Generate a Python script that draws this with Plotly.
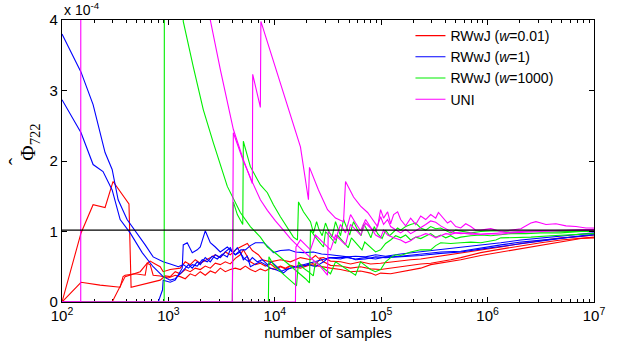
import plotly.graph_objects as go

# ---------------- data (values in units of 1e-4) ----------------
red_run1_n = [100, 151, 196, 254, 302, 409, 426, 446, 543, 674, 837, 933, 1040, 1159, 1291, 1440, 1604, 1788, 1993, 2221, 2476, 2759, 3074, 3426, 3818, 4256, 4743, 5062, 5520, 5891, 6566, 7318, 8155, 9091, 10130, 11290, 12590, 14030, 15630, 17420, 19420, 21640, 24120, 26880, 28680, 33390, 41470, 51510, 63990, 79480, 98700, 122600, 152300, 189200, 235000, 291900, 362500, 450300, 559200, 862900, 1.331e6, 2.054e6, 3.17e6, 4.89e6, 7.543e6, 1e7]
red_run1_phi = [0, 0.98, 1.38, 1.34, 1.71, 1.42, 1.39, 0.21, 0.24, 0.27, 0.31, 0.37, 0.36, 0.43, 0.40, 0.46, 0.43, 0.48, 0.46, 0.51, 0.48, 0.55, 0.53, 0.57, 0.54, 0.62, 0.67, 0.74, 0.65, 0.57, 0.53, 0.55, 0.51, 0.54, 0.48, 0.51, 0.48, 0.52, 0.50, 0.53, 0.51, 0.56, 0.53, 0.62, 0.57, 0.52, 0.51, 0.48, 0.50, 0.47, 0.46, 0.48, 0.50, 0.53, 0.54, 0.55, 0.57, 0.60, 0.63, 0.70, 0.75, 0.80, 0.84, 0.88, 0.91, 0.92]

red_run2_n = [100, 151, 228, 352, 375, 392, 487, 605, 632, 674, 719, 837, 996, 1159, 1291, 1440, 1604, 1788, 1993, 2221, 2476, 2759, 3074, 3426, 3818, 4256, 4743, 5285, 5891, 6566, 7318, 8155, 9091, 10130, 11290, 12590, 14030, 17420, 21640, 26880, 33390, 41470, 51510, 63990, 79480, 88600, 98700, 122600, 152300, 189200, 235000, 291900, 362500, 450300, 559200, 862900, 1.331e6, 2.054e6, 3.17e6, 4.89e6, 7.543e6, 1e7]
red_run2_phi = [0, 0.28, 0.24, 0.21, 0.36, 0.38, 0.40, 0.38, 0.55, 0.53, 0.38, 0.37, 0.34, 0.38, 0.36, 0.33, 0.40, 0.37, 0.43, 0.38, 0.44, 0.41, 0.48, 0.43, 0.46, 0.48, 0.46, 0.51, 0.46, 0.43, 0.47, 0.44, 0.48, 0.46, 0.50, 0.47, 0.51, 0.48, 0.53, 0.50, 0.48, 0.46, 0.43, 0.44, 0.41, 0.38, 0.41, 0.40, 0.43, 0.46, 0.48, 0.53, 0.55, 0.57, 0.60, 0.66, 0.71, 0.76, 0.81, 0.86, 0.90, 0.91]

red_run3_n = [100, 296, 392, 437, 543, 632, 674, 751, 837, 893, 1040, 1291, 1440, 1604, 1788, 1993, 2476, 2759, 3074, 3426, 3818, 4256, 4743, 5520, 6152, 7000, 7642, 9091, 11290, 14030, 17420, 21640, 24120, 25730, 28680, 33390, 41470, 51510, 63990, 79480, 98700, 122600, 152300, 189200, 235000, 291900, 362500, 450300, 559200, 862900, 1.331e6, 2.054e6, 3.17e6, 4.89e6, 7.543e6, 1e7]
red_run3_phi = [0, 0, 0.36, 0.38, 0.43, 0.55, 0.58, 0.54, 0.50, 0.43, 0.46, 0.48, 0.57, 0.53, 0.60, 0.55, 0.63, 0.67, 0.63, 0.71, 0.67, 0.74, 0.78, 0.83, 0.73, 0.67, 0.60, 0.57, 0.60, 0.57, 0.63, 0.60, 0.66, 0.62, 0.63, 0.58, 0.57, 0.54, 0.57, 0.54, 0.55, 0.57, 0.58, 0.60, 0.61, 0.63, 0.65, 0.68, 0.70, 0.74, 0.78, 0.83, 0.87, 0.91, 0.93, 0.95]

blue_run1_n = [100, 151, 196, 254, 296, 337, 409, 508, 605, 719, 893, 1040, 1240, 1379, 1540, 1676, 1867, 2080, 2319, 2580, 2881, 3208, 3578, 3818, 4256, 4743, 5062, 5520, 5891, 6566, 7318, 8155, 9091, 10130, 11290, 12590, 14030, 16330, 19420, 23090, 26880, 33390, 41470, 48270, 57410, 71320, 88600, 110000, 152300, 235000, 362500, 559200, 862900, 1.331e6, 2.054e6, 3.17e6, 4.89e6, 7.543e6, 1e7]
blue_run1_phi = [3.80, 3.26, 2.80, 2.12, 1.88, 1.45, 1.17, 0.98, 0.81, 0.64, 0.57, 0.54, 0.50, 0.53, 0.48, 0.53, 0.51, 0.60, 0.57, 0.65, 0.61, 0.68, 0.64, 0.74, 0.67, 0.71, 0.60, 0.65, 0.50, 0.54, 0.57, 0.53, 0.48, 0.46, 0.43, 0.46, 0.48, 0.50, 0.54, 0.57, 0.60, 0.63, 0.63, 0.63, 0.61, 0.63, 0.61, 0.64, 0.65, 0.68, 0.71, 0.72, 0.77, 0.81, 0.85, 0.88, 0.91, 0.94, 0.95]

blue_run2_n = [100, 151, 196, 243, 296, 352, 437, 567, 719, 893, 1040, 1159, 1349, 1545, 1676, 1867, 1993, 2221, 2476, 2759, 3074, 3426, 3818, 3987, 4256, 4800, 5285, 5891, 6566, 7900, 8800, 9701, 11290, 13590, 15630, 18590, 23090, 27500, 33390, 41470, 48270, 57410, 71320, 88600, 110000, 152300, 235000, 362500, 559200, 862900, 1.331e6, 2.054e6, 3.17e6, 4.89e6, 7.543e6, 1e7]
blue_run2_phi = [2.87, 2.40, 1.95, 1.85, 1.59, 1.17, 0.98, 0.70, 0.50, 0.36, 0.31, 0.33, 0.43, 0.53, 0.48, 0.57, 0.53, 0.63, 0.57, 0.67, 0.63, 0.71, 0.77, 0.71, 0.67, 0.74, 0.74, 0.80, 0.84, 0.84, 0.77, 0.70, 0.73, 0.74, 0.71, 0.70, 0.71, 0.68, 0.67, 0.65, 0.64, 0.65, 0.64, 0.67, 0.65, 0.68, 0.71, 0.74, 0.77, 0.81, 0.84, 0.88, 0.91, 0.94, 0.97, 0.98]

blue_run3_n = [100, 802, 880, 893, 1040, 1159, 1349, 1379, 1503, 1676, 1867, 1993, 2221, 2476, 2759, 3074, 3578, 4075, 4444, 5062, 5700, 6152, 6857, 7642, 8517, 9300, 10800, 12050, 13140, 14970, 17420, 20720, 24200, 28680, 32000, 41470, 48270, 57410, 71320, 88600, 110000, 152300, 235000, 362500, 559200, 862900, 1.331e6, 2.054e6, 3.17e6, 4.89e6, 7.543e6, 1e7]
blue_run3_phi = [0, 0, 0.17, 0.31, 0.28, 0.31, 0.48, 0.81, 0.84, 0.70, 0.74, 0.78, 1.01, 0.84, 0.78, 0.71, 0.78, 0.70, 0.77, 0.63, 0.57, 0.63, 0.57, 0.60, 0.53, 0.57, 0.48, 0.41, 0.46, 0.50, 0.50, 0.53, 0.50, 0.57, 0.63, 0.61, 0.64, 0.60, 0.61, 0.64, 0.63, 0.64, 0.66, 0.69, 0.71, 0.75, 0.79, 0.83, 0.87, 0.91, 0.94, 0.96]

green_run1_n = [100, 913, 940, 1379, 1712, 2127, 2642, 3578, 4743, 5891, 7318, 8517, 10580, 13140, 16330, 19420, 21180, 21640, 24120, 26880, 28680, 29960, 33390, 37210, 38870, 44260, 49000, 52500, 59970, 66000, 70000, 79480, 88600, 98700, 110000, 122600, 136700, 152300, 169700, 189200, 210900, 235000, 261900, 291900, 325300, 362500, 404000, 450300, 501800, 559200, 694600, 862900, 1.072e6, 1.331e6, 1.654e6, 2.289e6, 3.17e6, 4.89e6, 7.543e6, 1e7]
green_run1_phi = [0, 0, 40, 3.98, 3.34, 2.73, 2.26, 1.64, 1.27, 1.07, 0.92, 0.78, 0.67, 0.55, 0.43, 0.33, 0.27, 1.02, 0.92, 0.84, 0.78, 1.00, 0.91, 0.83, 0.95, 0.85, 0.77, 0.91, 0.81, 0.74, 0.85, 0.77, 0.71, 0.74, 0.83, 0.88, 0.94, 0.91, 0.95, 0.88, 0.92, 0.90, 0.94, 0.97, 0.92, 0.95, 0.91, 0.94, 0.90, 0.92, 0.94, 0.95, 0.94, 0.95, 0.97, 0.97, 0.98, 0.98, 1.00, 1.00]

green_run2_n = [100, 3987, 4075, 4444, 5000, 5062, 5891, 7318, 8517, 9701, 11290, 13140, 14970, 16330, 16700, 18590, 21640, 23090, 24700, 26000, 27900, 29960, 31800, 34500, 37210, 39700, 41470, 44260, 47200, 50500, 54960, 59970, 64800, 68290, 74480, 80000, 86000, 92500, 102000, 110000, 120000, 130900, 142700, 152300, 169700, 189200, 210900, 235000, 261900, 291900, 325300, 362500, 404000, 450300, 501800, 559200, 694600, 862900, 1.195e6, 1.654e6, 2.289e6, 3.17e6, 4.89e6, 7.543e6, 1e7]
green_run2_phi = [0, 0, 1.42, 1.24, 1.10, 2.28, 1.92, 1.66, 1.55, 1.38, 1.21, 1.05, 0.92, 0.88, 1.42, 1.28, 1.14, 0.98, 1.14, 1.03, 0.94, 1.12, 1.02, 0.92, 1.14, 1.02, 0.94, 1.17, 1.05, 0.95, 1.14, 1.02, 0.94, 1.11, 1.01, 0.91, 1.07, 0.97, 0.90, 1.02, 0.94, 1.00, 1.05, 1.02, 1.07, 1.10, 1.12, 1.05, 1.02, 1.07, 1.04, 1.05, 1.01, 0.98, 1.02, 1.01, 0.98, 1.00, 1.01, 0.99, 1.00, 1.01, 1.00, 1.00, 1.00]

green_run3_n = [100, 8703, 8800, 9701, 11290, 13140, 14970, 16000, 16700, 18590, 20720, 23000, 24120, 26880, 29960, 33390, 37210, 41470, 46220, 51510, 57410, 63990, 71320, 79480, 88000, 98700, 110000, 122600, 136700, 152300, 189200, 235000, 291900, 325300, 362500, 450300, 559200, 694600, 862900, 1.195e6, 1.331e6, 1.654e6, 2.552e6, 3.937e6, 6.073e6, 1e7]
green_run3_phi = [0, 0, 0.64, 0.53, 0.43, 0.34, 0.26, 0.23, 0.57, 0.48, 0.43, 0.37, 0.57, 0.51, 0.45, 0.40, 0.57, 0.52, 0.48, 0.43, 0.38, 0.57, 0.51, 0.46, 0.43, 0.46, 0.57, 0.63, 0.67, 0.66, 0.71, 0.74, 0.74, 0.80, 0.84, 0.83, 0.84, 0.85, 0.84, 0.88, 0.91, 0.91, 0.92, 0.94, 0.95, 0.97]

uni_run1_n = [100, 150, 152, 2476, 3074, 4075, 5062, 6152, 6200, 7318, 7400, 9701, 13140, 17420, 20720, 21180, 25730, 31290, 37210, 44260, 46220, 54960, 63990, 74480, 83000, 92500, 98700, 105300, 114900, 122600, 130900, 142700, 152300, 169700, 189200, 210900, 235000, 261900, 291900, 325300, 345000, 380000, 420000, 450300, 501800, 559200, 623200, 694600, 774100, 862900, 1.072e6, 1.331e6, 1.654e6, 2.054e6, 2.552e6, 2.844e6, 3.17e6, 3.532e6, 4.387e6, 5.45e6, 6.768e6, 8.407e6, 1e7]
uni_run1_phi = [0, 0, 60, 4.0, 3.30, 2.45, 2.02, 1.68, 3.23, 2.76, 3.98, 3.41, 2.76, 2.20, 1.45, 1.91, 1.59, 1.31, 1.19, 1.14, 1.71, 1.49, 1.36, 1.27, 1.17, 1.07, 1.31, 1.19, 1.28, 1.11, 1.24, 1.28, 1.17, 1.08, 1.19, 1.10, 1.22, 1.17, 1.24, 1.19, 1.27, 1.20, 1.12, 1.15, 1.07, 1.05, 1.11, 1.07, 1.02, 1.02, 1.04, 1.00, 1.02, 1.04, 1.12, 1.14, 1.12, 1.10, 1.11, 1.08, 1.07, 1.05, 1.05]

uni_run2_n = [100, 3987, 4075, 5062, 6152, 7318, 8517, 10130, 12050, 14030, 16330, 19420, 23090, 26880, 31290, 31800, 37210, 41470, 46220, 51510, 57410, 63990, 71320, 79480, 88600, 98700, 105300, 114900, 130900, 152300, 169700, 189200, 210900, 235000, 261900, 291900, 325300, 362500, 404000, 450300, 501800, 559200, 694600, 862900, 1.072e6, 1.331e6, 1.654e6, 2.054e6, 3.17e6, 4.89e6, 7.543e6, 1e7]
uni_run2_phi = [0, 0, 2.40, 2.00, 1.70, 1.45, 1.30, 1.15, 1.02, 0.90, 0.80, 0.70, 0.60, 0.50, 0.38, 1.00, 0.88, 1.10, 0.98, 1.24, 1.12, 1.01, 1.17, 1.05, 0.95, 0.91, 1.02, 0.95, 0.91, 0.88, 0.84, 0.87, 0.92, 0.94, 0.97, 0.95, 0.91, 0.94, 0.97, 0.96, 0.98, 0.98, 0.96, 0.96, 0.97, 0.98, 1.00, 1.00, 1.01, 1.02, 1.02, 1.02]

uni_run3_n = [100, 15630, 15800, 17420, 19420, 21640, 24120, 26880, 29960, 33390, 37210, 41470, 46220, 51510, 57410, 63990, 71320, 79480, 88600, 98700, 105300, 114900, 122600, 136700, 152300, 169700, 189200, 210900, 235000, 261900, 291900, 325300, 362500, 404000, 450300, 501800, 559200, 694600, 862900, 1.072e6, 1.331e6, 1.654e6, 2.054e6, 3.17e6, 4.89e6, 7.543e6, 1e7]
uni_run3_phi = [0, 0, 0.78, 0.88, 0.81, 0.74, 0.95, 0.88, 0.80, 0.74, 0.95, 0.88, 0.81, 1.10, 1.02, 0.95, 1.12, 1.05, 1.00, 1.21, 1.10, 1.17, 1.07, 1.02, 0.98, 1.03, 0.97, 1.01, 1.05, 1.10, 1.15, 1.13, 1.08, 1.04, 1.00, 0.98, 0.97, 0.98, 0.96, 0.97, 0.96, 0.98, 0.99, 1.00, 1.01, 1.02, 1.03]

true_n = [100, 1e7]
true_phi = [1.02, 1.02]

series_names = ["RWwJ (<i>w</i>=0.01)", "RWwJ (<i>w</i>=1)", "RWwJ (<i>w</i>=1000)", "UNI"]
series_colors = ["#ff0000", "#0000ff", "#00ee00", "#ff00ff"]
x_tick_vals = [1e2, 1e3, 1e4, 1e5, 1e6, 1e7]
x_tick_text = ["10<sup>2</sup>", "10<sup>3</sup>", "10<sup>4</sup>", "10<sup>5</sup>", "10<sup>6</sup>", "10<sup>7</sup>"]
x_minor_vals = [m * d for d in [1e2, 1e3, 1e4, 1e5, 1e6] for m in [2, 3, 4, 5, 6, 7, 8, 9]]
y_tick_vals = [0, 1, 2, 3, 4]

runs = [
    [(red_run1_n, red_run1_phi), (red_run2_n, red_run2_phi), (red_run3_n, red_run3_phi)],
    [(blue_run1_n, blue_run1_phi), (blue_run2_n, blue_run2_phi), (blue_run3_n, blue_run3_phi)],
    [(green_run1_n, green_run1_phi), (green_run2_n, green_run2_phi), (green_run3_n, green_run3_phi)],
    [(uni_run1_n, uni_run1_phi), (uni_run2_n, uni_run2_phi), (uni_run3_n, uni_run3_phi)],
]

fig = go.Figure()
for name, color, group in zip(series_names, series_colors, runs):
    for i, (xs, ys) in enumerate(group):
        fig.add_trace(go.Scatter(
            x=xs, y=ys, mode="lines", name=name, legendgroup=name,
            showlegend=(i == 0), line=dict(color=color, width=1.1),
        ))

fig.add_trace(go.Scatter(x=true_n, y=true_phi, mode="lines", showlegend=False,
                         line=dict(color="black", width=1.1)))

font_family = "Liberation Sans, Arial, Helvetica, sans-serif"
serif = "Liberation Serif, DejaVu Serif, serif"

fig.update_layout(
    width=621, height=347,
    margin=dict(l=62, r=27, t=20, b=45),
    paper_bgcolor="white", plot_bgcolor="white",
    font=dict(family=font_family, color="black", size=14),
    legend=dict(x=0.655, y=1.0, xanchor="left", yanchor="top",
                bgcolor="rgba(0,0,0,0)", font=dict(size=14), tracegroupgap=0),
    annotations=[
        dict(text="x 10<sup>-4</sup>", xref="paper", yref="paper", x=0, y=1,
             xanchor="left", yanchor="bottom", yshift=0, showarrow=False,
             font=dict(size=14)),
        dict(text="Φ<sub>722</sub>", xref="paper", yref="paper", x=-0.062, y=0.565,
             xanchor="center", yanchor="middle", textangle=-90, showarrow=False,
             font=dict(size=21, family=serif)),
        dict(text="ˆ", xref="paper", yref="paper", x=-0.086, y=0.5,
             xanchor="center", yanchor="middle", textangle=-90, showarrow=False,
             font=dict(size=22, family=serif)),
    ],
)

fig.update_xaxes(
    type="log", range=[2, 7], tickvals=x_tick_vals, ticktext=x_tick_text,
    ticks="inside", ticklen=5, tickcolor="black", showline=True, linecolor="black",
    linewidth=1.2, mirror="allticks", showgrid=False, zeroline=False,
    tickfont=dict(size=15), layer="below traces",
    minor=dict(tickmode="array", tickvals=x_minor_vals, ticks="inside", ticklen=3,
               tickcolor="black", showgrid=False),
    title=dict(text="number of samples", font=dict(size=15), standoff=0),
)
fig.update_yaxes(
    range=[0, 4], tickvals=y_tick_vals, ticks="inside", ticklen=5, tickcolor="black",
    showline=True, linecolor="black", linewidth=1.2, mirror="allticks",
    showgrid=False, zeroline=False, tickfont=dict(size=15),
)

fig.write_html("out.html")
